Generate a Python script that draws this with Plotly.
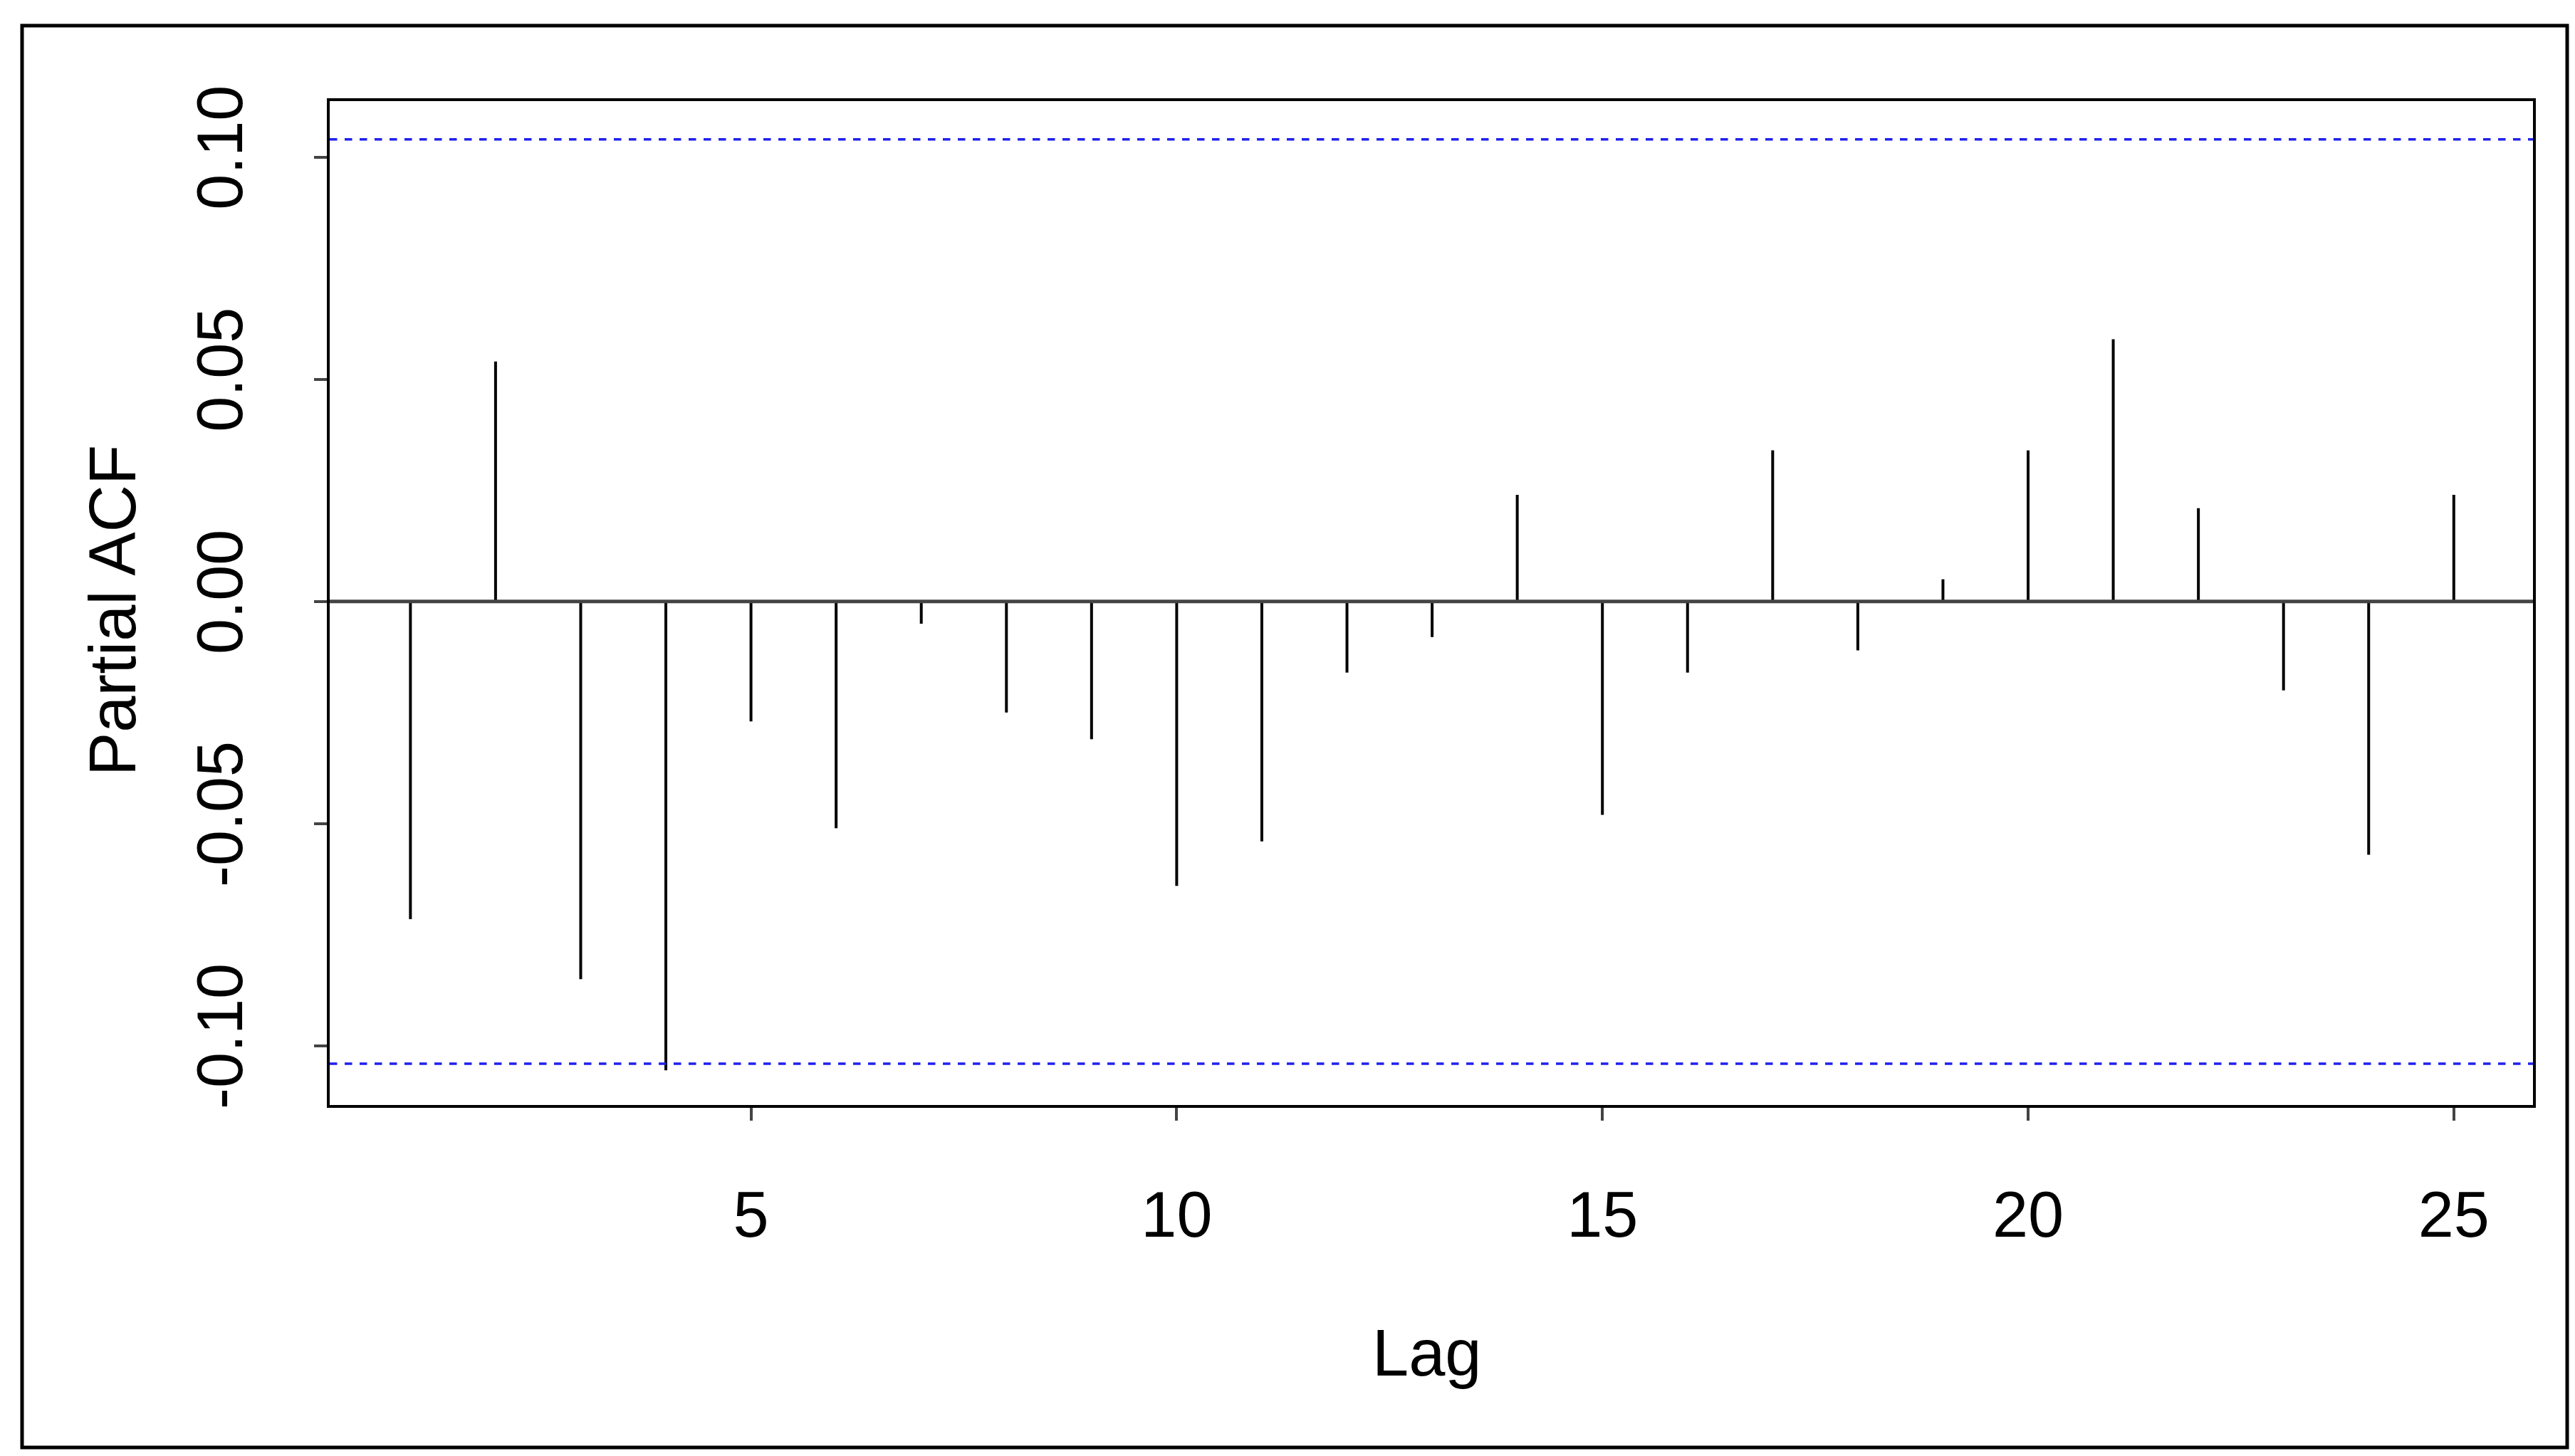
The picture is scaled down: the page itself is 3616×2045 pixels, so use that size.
import plotly.graph_objects as go

lags = list(range(1, 26))
pacf = [-0.0715, 0.054, -0.085, -0.1055, -0.027, -0.051, -0.005, -0.025, -0.031, -0.064,
        -0.054, -0.016, -0.008, 0.024, -0.048, -0.016, 0.034, -0.011, 0.005, 0.034,
        0.059, 0.021, -0.020, -0.057, 0.024]
ci = 0.104
xticks = [5, 10, 15, 20, 25]
yticks = [-0.10, -0.05, 0.00, 0.05, 0.10]
ytick_text = ["-0.10", "-0.05", "0.00", "0.05", "0.10"]

xs, ys = [], []
for l, v in zip(lags, pacf):
    xs += [l, l, None]
    ys += [0, v, None]

W, H = 3616, 2045
L, R, T, B = 455, 3549, 134, 1544
pw, ph = R - L, B - T
font = "Liberation Sans, Arial, sans-serif"

fig = go.Figure()
fig.add_trace(go.Scatter(x=xs, y=ys, mode="lines", line=dict(color="black", width=4),
                         showlegend=False, hoverinfo="skip"))
xr = [0.052, 25.93]
for yv in (ci, -ci):
    fig.add_trace(go.Scatter(x=xr, y=[yv, yv], mode="lines",
                             line=dict(color="#2020ee", width=3.5, dash="dash"),
                             showlegend=False, hoverinfo="skip"))
fig.add_trace(go.Scatter(x=xr, y=[0, 0], mode="lines", line=dict(color="#444444", width=5),
                         showlegend=False, hoverinfo="skip"))

fig.update_layout(
    width=W, height=H, plot_bgcolor="white", paper_bgcolor="white",
    margin=dict(l=L, r=W - R, t=T, b=H - B),
    font=dict(family=font, size=90, color="black"),
    xaxis=dict(range=xr, tickvals=xticks, showgrid=False, zeroline=False,
               showline=True, mirror=True, linecolor="black", linewidth=4,
               ticks="outside", ticklen=18, tickwidth=4, tickfont=dict(size=90),
               ticklabelstandoff=55),
    yaxis=dict(range=[-0.1133, 0.1126], tickvals=yticks, ticktext=ytick_text, showgrid=False,
               zeroline=False, showline=True, mirror=True, linecolor="black", linewidth=4,
               ticks="outside", ticklen=18, tickwidth=4, tickangle=-90, tickfont=dict(size=90),
               ticklabelstandoff=65),
    shapes=[dict(type="rect", xref="paper", yref="paper",
                 x0=(23 - L) / pw, x1=(3597 - L) / pw,
                 y0=(B - 2025) / ph, y1=(B - 28) / ph,
                 line=dict(color="black", width=5))],
    annotations=[
        dict(text="Lag", xref="paper", yref="paper", x=(1996 - L) / pw, y=(B - 1945) / ph,
             showarrow=False, font=dict(size=92)),
        dict(text="Partial ACF", xref="paper", yref="paper", x=(97 - L) / pw, y=(B - 850) / ph,
             showarrow=False, textangle=-90, font=dict(size=92)),
    ],
)
fig.write_html("out.html")
